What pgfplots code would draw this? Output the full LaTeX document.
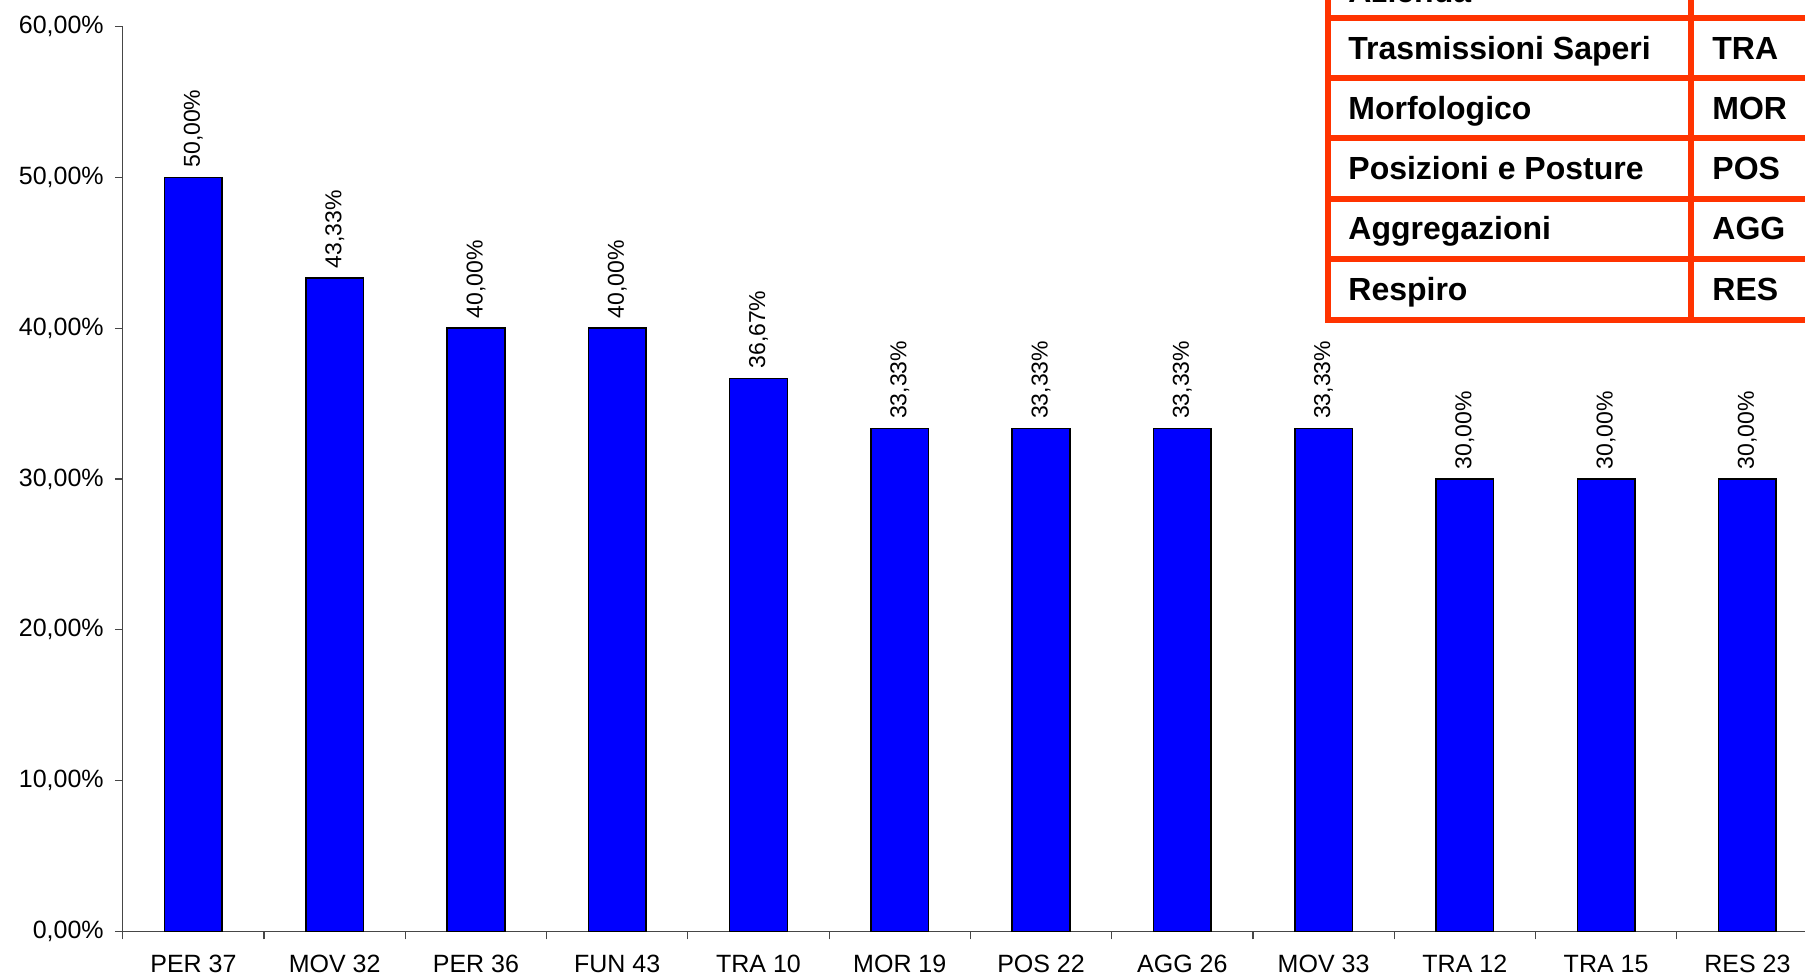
\documentclass[border=0pt]{standalone}
\usepackage{pgfplots}
\pgfplotsset{compat=1.18}
\usepackage{fontspec}
\setmainfont{Liberation Sans}
\definecolor{barblue}{RGB}{0,0,255}
\definecolor{tabred}{RGB}{255,51,0}
\definecolor{axgray}{RGB}{70,70,70}
\begin{document}
\begin{tikzpicture}
\clip (-61.4pt,-22.35pt) rectangle (841.1pt,465.65pt);
\begin{axis}[
  scale only axis, width=847.6pt, height=452.4pt,
  xmin=0.5, xmax=12.5, ymin=0, ymax=60,
  axis x line*=bottom, axis y line*=left,
  axis line style={axgray, line width=0.6pt},
  tick align=outside, major tick length=4pt,
  tick style={axgray, line width=0.6pt},
  xtick={0.5,1.5,...,12.5},
  x tick label as interval,
  xticklabels={PER 37,MOV 32,PER 36,FUN 43,TRA 10,MOR 19,POS 22,AGG 26,MOV 33,TRA 12,TRA 15,RES 23},
  xticklabel style={font=\fontsize{12.5}{15}\selectfont, yshift=-4.5pt},
  ytick={0,10,...,60},
  /pgf/number format/assume math mode=true,
  yticklabel={\pgfmathprintnumber[fixed,fixed zerofill,precision=2,use comma]{\tick}\%},
  yticklabel style={font=\fontsize{12.5}{15}\selectfont, xshift=-2pt},
  clip=false,
]
\addplot[ybar, bar width=28.8pt, fill=barblue, draw=black, line width=0.75pt,
  nodes near coords={\pgfmathprintnumber[fixed,fixed zerofill,precision=2,use comma,assume math mode=true]{\pgfplotspointmeta}\%},
  every node near coord/.append style={rotate=90, anchor=west, black, inner sep=0pt, font=\fontsize{11.5}{13}\selectfont, shift={(4.5pt,0pt)}},
] table {
x y
1 50
2 43.33
3 40
4 40
5 36.67
6 33.33
7 33.33
8 33.33
9 33.33
10 30
11 30
12 30
};
\end{axis}
\begin{scope}[shift={(-61.4pt,465.65pt)}, x=0.5pt, y=-0.5pt]
  \fill[white] (1328,-80) rectangle (1860,319.7);
  \begin{scope}[tabred, line width=3pt]
    \draw (1328,-80) -- (1328,319.7);
    \draw (1691,-80) -- (1691,319.7);
    \foreach \yy in {18,78,138.5,199,259,319.7} {\draw (1325,\yy) -- (1860,\yy);}
  \end{scope}
  \begin{scope}[every node/.style={anchor=base west, inner sep=0pt, font=\fontsize{16}{19}\selectfont\bfseries}]
    \node at (1348,3) {Azienda};
    \node at (1348,59.3) {Trasmissioni Saperi};
    \node at (1712,59.3) {TRA};
    \node at (1348,119.5) {Morfologico};
    \node at (1712,119.5) {MOR};
    \node at (1348,180) {Posizioni e Posture};
    \node at (1712,180) {POS};
    \node at (1348,240) {Aggregazioni};
    \node at (1712,240) {AGG};
    \node at (1348,300.5) {Respiro};
    \node at (1712,300.5) {RES};
  \end{scope}
\end{scope}
\end{tikzpicture}
\end{document}
